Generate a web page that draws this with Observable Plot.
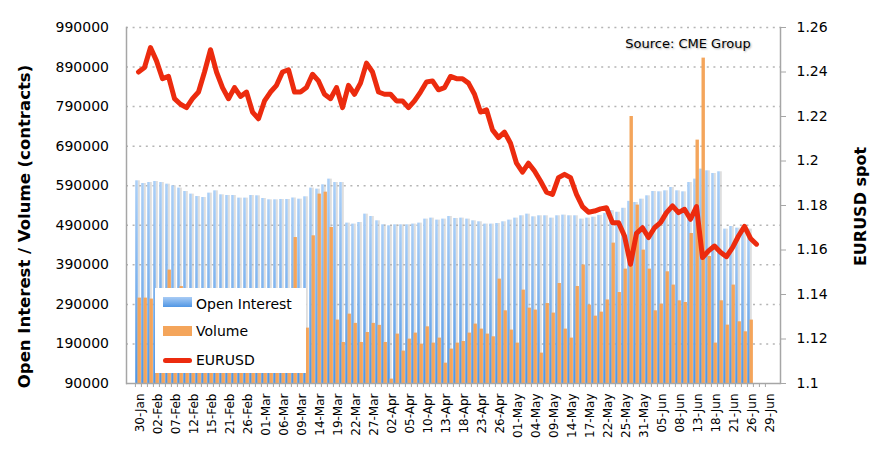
<!DOCTYPE html>
<html>
<head>
<meta charset="utf-8">
<script src="https://cdn.jsdelivr.net/npm/d3@7"></script>
<script src="https://cdn.jsdelivr.net/npm/@observablehq/plot@0.6"></script>
<style>
  html, body { margin: 0; padding: 0; background: #fff; }
  #wrap { position: relative; width: 884px; height: 453px; font-family: "DejaVu Sans", sans-serif; color: #000; }
  #legend { position: absolute; left: 155px; top: 288px; width: 151px; height: 85px; background: #fff; }
  #legend .sw { position: absolute; left: 8px; width: 29px; }
  #legend .lab { position: absolute; left: 41px; font-size: 14px; line-height: 17px; white-space: nowrap; }
  #source { position: absolute; left: 600px; top: 36px; width: 176px; text-align: center; font-size: 13px; line-height: 16px;
            text-shadow: 1px 1px 2px rgba(0,0,0,0.35); }
</style>
</head>
<body>
<div id="wrap">
  <div id="chart"></div>
  <div id="legend">
    <div class="sw" style="top:9px;height:10px;background:linear-gradient(#a9ccf5,#5096e4);"></div>
    <div class="lab" style="top:7.5px;">Open Interest</div>
    <div class="sw" style="top:38px;height:10px;background:#f4a55b;"></div>
    <div class="lab" style="top:35px;">Volume</div>
    <div class="sw" style="top:69.5px;height:5px;border-radius:3px;background:#ec2b0e;"></div>
    <div class="lab" style="top:64px;">EURUSD</div>
  </div>
  <div id="source">Source: CME Group</div>
</div>
<script>
// Business days (category axis)
const dates = [
  "30-Jan","31-Jan","01-Feb","02-Feb","05-Feb","06-Feb","07-Feb","08-Feb","09-Feb","12-Feb",
  "13-Feb","14-Feb","15-Feb","16-Feb","20-Feb","21-Feb","22-Feb","23-Feb","26-Feb","27-Feb",
  "28-Feb","01-Mar","02-Mar","05-Mar","06-Mar","07-Mar","08-Mar","09-Mar","12-Mar","13-Mar",
  "14-Mar","15-Mar","16-Mar","19-Mar","20-Mar","21-Mar","22-Mar","23-Mar","26-Mar","27-Mar",
  "28-Mar","29-Mar","02-Apr","03-Apr","04-Apr","05-Apr","06-Apr","09-Apr","10-Apr","11-Apr",
  "12-Apr","13-Apr","16-Apr","17-Apr","18-Apr","19-Apr","20-Apr","23-Apr","24-Apr","25-Apr",
  "26-Apr","27-Apr","30-Apr","01-May","02-May","03-May","04-May","07-May","08-May","09-May",
  "10-May","11-May","14-May","15-May","16-May","17-May","18-May","21-May","22-May","23-May",
  "24-May","25-May","29-May","30-May","31-May","01-Jun","04-Jun","05-Jun","06-Jun","07-Jun",
  "08-Jun","11-Jun","12-Jun","13-Jun","14-Jun","15-Jun","18-Jun","19-Jun","20-Jun","21-Jun",
  "22-Jun","25-Jun","26-Jun","27-Jun","28-Jun","29-Jun"
];
const tickLabels = [
  "30-Jan","02-Feb","07-Feb","12-Feb","15-Feb","21-Feb","26-Feb","01-Mar","06-Mar","09-Mar",
  "14-Mar","19-Mar","22-Mar","27-Mar","02-Apr","05-Apr","10-Apr","13-Apr","18-Apr","23-Apr",
  "26-Apr","01-May","04-May","09-May","14-May","17-May","22-May","25-May","31-May","05-Jun",
  "08-Jun","13-Jun","18-Jun","21-Jun","26-Jun","29-Jun"
];
const openInterest = [
  602400,595600,598100,600700,598100,594000,589800,584000,575400,568800,
  562700,560200,571300,577100,567000,565300,565300,558700,558700,565300,
  564500,557700,554400,554400,555200,555200,559000,556000,562000,584000,
  581400,592300,606700,598100,598100,495500,493000,497000,518200,512200,
  501300,491200,488700,491200,491200,491200,493000,495500,505600,508100,
  503100,505600,512200,507200,508100,505600,501300,498800,493000,493000,
  494500,498800,503100,508100,514000,518200,511400,514000,514000,508100,
  514000,515700,514000,514000,505600,508100,510500,515000,520000,527000,
  523000,533000,550500,547600,556000,564500,575400,574600,577100,585500,
  577100,574600,598100,606700,632000,627700,620900,625200,480300,486900,
  482800,484400,480300
];
const volume = [
  305900,305900,303400,324300,290700,376700,260000,335000,240000,280000,
  250000,300000,310000,270000,230000,240000,210000,220000,200000,260000,
  250000,270000,230000,250000,280000,240000,459000,220000,230000,463400,
  568800,573700,484400,250300,193700,265400,242000,193700,218900,242000,
  237000,193700,101100,214900,172000,202200,217400,189600,233300,192100,
  204800,141400,177000,192100,196200,217400,240200,227500,214900,208100,
  353900,273800,225000,192100,326100,280600,275600,166800,292200,268000,
  342800,227500,204800,335200,389600,288200,260300,270400,301200,444900,
  320000,379200,765000,541000,427200,379200,273800,290700,372400,338800,
  299100,294800,469200,705300,912600,411100,192100,299100,237600,338800,
  246000,220700,250300
];
const eurusd = [
  1.240,1.242,1.251,1.245,1.237,1.238,1.228,1.2255,1.224,1.228,
  1.231,1.240,1.250,1.240,1.233,1.228,1.233,1.229,1.231,1.222,
  1.219,1.227,1.231,1.234,1.240,1.241,1.231,1.231,1.233,1.239,
  1.236,1.230,1.228,1.233,1.224,1.234,1.230,1.235,1.244,1.240,
  1.231,1.230,1.230,1.227,1.227,1.224,1.227,1.231,1.2355,1.236,
  1.232,1.233,1.238,1.237,1.237,1.235,1.230,1.222,1.223,1.214,
  1.2105,1.213,1.208,1.199,1.195,1.199,1.1955,1.191,1.186,1.185,
  1.1925,1.194,1.1925,1.185,1.1795,1.177,1.1775,1.1785,1.179,1.1723,
  1.1723,1.1663,1.1536,1.1675,1.170,1.1656,1.170,1.1723,1.1768,1.1798,
  1.1768,1.1783,1.1738,1.1795,1.1566,1.1596,1.1618,1.159,1.157,1.1611,
  1.1663,1.1706,1.1652,1.1626
];
const leftTicks = [90000,190000,290000,390000,490000,590000,690000,790000,890000,990000];
const gridTicks = [190000,290000,390000,490000,590000,690000,790000,890000,990000];
const rightTicks = [1.1,1.12,1.14,1.16,1.18,1.2,1.22,1.24,1.26];

const leftDomain = [90000, 990000];
const rightDomain = [1.1, 1.26];
const eurToLeft = d3.scaleLinear(rightDomain, leftDomain);

const bars = openInterest.map((v, i) => ({date: dates[i], oi: v, vol: volume[i]}));
const line = eurusd.map((v, i) => ({date: dates[i], v: eurToLeft(v)}));
const base = leftDomain[0];

const W = 884, H = 453, mL = 126, mR = 104, mT = 27, mB = 70;
const bw = (W - mL - mR) / dates.length;

const svg = Plot.plot({
  width: W, height: H,
  marginLeft: mL, marginRight: mR, marginTop: mT, marginBottom: mB,
  style: {fontFamily: "DejaVu Sans, sans-serif", fontSize: "14px", color: "#000", background: "transparent", overflow: "visible"},
  x: {type: "band", domain: dates, padding: 0, axis: null, label: null},
  y: {domain: leftDomain, axis: null, label: null},
  marks: [
    // shadow strip behind OI bars
    Plot.barY(bars, {x: "date", y1: d => base, y2: "oi", fill: "#dedede", insetLeft: 2.8, insetRight: 1.2}),
    Plot.ruleY(gridTicks, {stroke: "#b5b5b5", strokeWidth: 1.5, strokeDasharray: "2,4.6"}),
    Plot.barY(bars, {x: "date", y1: d => base, y2: "oi", fill: "url(#oiGrad)", insetLeft: 0.2, insetRight: 3.2}),
    Plot.barY(bars, {x: "date", y1: d => base, y2: "vol", fill: "#f4a55b", insetLeft: 2.5, insetRight: 0.1}),
    Plot.line(line, {x: "date", y: "v", stroke: "#ec2b0e", strokeWidth: 5, strokeLinejoin: "round", strokeLinecap: "round"}),
    Plot.ruleY([base], {stroke: "#a6a6a6", strokeWidth: 1.5}),
    Plot.frame({anchor: "left", stroke: "#a6a6a6", strokeWidth: 1.5}),
    Plot.frame({anchor: "right", stroke: "#a6a6a6", strokeWidth: 1.5}),
    Plot.axisY(leftTicks, {anchor: "left", tickSize: 0, tickPadding: 17.5, tickFormat: d => String(d), label: null}),
    Plot.axisY(rightTicks.map(eurToLeft), {anchor: "right", tickSize: 5, tickPadding: 11, stroke: "#a6a6a6",
      tickFormat: d => String(+eurToLeft.invert(d).toFixed(2)), label: null}),
    Plot.axisX(dates, {tickSize: 4, tickPadding: 0, tickFormat: () => "", dx: -bw / 2, stroke: "#a6a6a6", label: null}),
    Plot.axisX(tickLabels, {tickSize: 0, tickPadding: 10, tickRotate: -90, textAnchor: "end", fontSize: 12, dx: 2, label: null}),
    Plot.text(["Open Interest / Volume (contracts)"], {text: d => d, frameAnchor: "left", textAnchor: "middle", rotate: -90,
      dx: -102, dy: 21, fontWeight: "bold", fontSize: 16.5}),
    Plot.text(["EURUSD spot"], {text: d => d, frameAnchor: "right", textAnchor: "middle", rotate: -90,
      dx: 80.5, dy: 1, fontWeight: "bold", fontSize: 16})
  ]
});

// gradient definition for Open Interest bars
const defs = d3.select(svg).insert("defs", ":first-child");
const grad = defs.append("linearGradient").attr("id", "oiGrad").attr("x1", 0).attr("y1", 0).attr("x2", 0).attr("y2", 1);
grad.append("stop").attr("offset", "0%").attr("stop-color", "#acd0f7");
grad.append("stop").attr("offset", "35%").attr("stop-color", "#8dbcf0");
grad.append("stop").attr("offset", "100%").attr("stop-color", "#5096e4");

document.getElementById("chart").appendChild(svg);
</script>
</body>
</html>
